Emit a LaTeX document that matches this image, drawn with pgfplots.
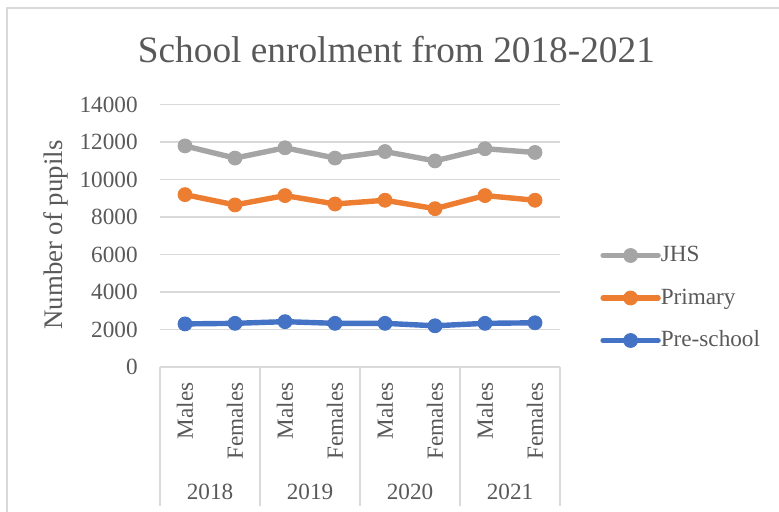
\documentclass[border=0pt]{standalone}
\usepackage{fontspec}
\setmainfont{Liberation Serif}
\usepackage{pgfplots}
\pgfplotsset{compat=1.18}
\definecolor{txt}{HTML}{595959}
\definecolor{gridc}{HTML}{D9D9D9}
\definecolor{cjhs}{HTML}{A5A5A5}
\definecolor{cpri}{HTML}{ED7D31}
\definecolor{cpre}{HTML}{4472C4}
\begin{document}
\begin{tikzpicture}
\path[use as bounding box] (0,0) rectangle (389.5pt,256pt);
\draw[gridc, line width=0.75pt] (3.5pt,0) -- (3.5pt,252pt) -- (389.5pt,252pt);
\begin{axis}[
  at={(80pt,72.5pt)}, anchor=south west,
  scale only axis, width=200pt, height=131.15pt,
  xmin=-0.5, xmax=7.5, ymin=0, ymax=14000,
  ytick={0,2000,...,14000},
  scaled y ticks=false,
  xtick={0,...,7},
  xticklabels={Males,Females,Males,Females,Males,Females,Males,Females},
  axis x line*=bottom, axis y line*=left,
  y axis line style={draw=none},
  x axis line style={gridc, line width=0.75pt, -},
  major tick length=0pt,
  ymajorgrids, major grid style={gridc, line width=0.75pt},
  tick label style={font=\fontsize{11.6}{13}\selectfont, text=txt},
  yticklabel style={anchor=east, inner sep=0pt, xshift=-11pt},
  xticklabel style={yshift=-7.5pt, rotate=90, anchor=east, inner sep=0pt},
  /pgf/number format/assume math mode=true,
  /pgf/number format/1000 sep={},
  ylabel={Number of pupils},
  ylabel style={at={(axis description cs:-0.26,0.503)}, anchor=center, font=\fontsize{13.4}{15}\selectfont, text=txt},
  title={School enrolment from 2018-2021},
  every axis title shift/.style={yshift=0pt},
  title style={at={(axis description cs:0.591,1.1135)}, anchor=base, inner sep=0pt, font=\fontsize{18.65}{22}\selectfont, text=txt},
  clip=false,
  legend cell align=left,
  legend style={at={(axis description cs:1.1,0.263)}, anchor=west, draw=none, fill=none,
    font=\fontsize{11.6}{13}\selectfont, text=txt, inner sep=0pt, row sep=10.25pt,
    nodes={inner sep=0pt, text height=8.5pt, text depth=2.5pt},
    /tikz/every even column/.append style={column sep=1.2pt}},
  legend image code/.code={\draw[mark repeat=2,mark phase=2,#1] plot coordinates {(0pt,0pt) (13.75pt,0pt) (27.5pt,0pt)};},
]
\addplot[cjhs, line width=2.7pt, line join=round, line cap=round, mark=*, mark size=3.5pt, mark options={solid, fill=cjhs, draw=cjhs, line width=0.4pt}]
  coordinates {(0,11800) (1,11150) (2,11700) (3,11150) (4,11500) (5,11000) (6,11650) (7,11450)};
\addlegendentry{JHS}
\addplot[cpri, line width=2.7pt, line join=round, line cap=round, mark=*, mark size=3.5pt, mark options={solid, fill=cpri, draw=cpri, line width=0.4pt}]
  coordinates {(0,9200) (1,8650) (2,9150) (3,8700) (4,8900) (5,8450) (6,9150) (7,8900)};
\addlegendentry{Primary}
\addplot[cpre, line width=2.7pt, line join=round, line cap=round, mark=*, mark size=3.5pt, mark options={solid, fill=cpre, draw=cpre, line width=0.4pt}]
  coordinates {(0,2300) (1,2330) (2,2420) (3,2330) (4,2330) (5,2200) (6,2330) (7,2360)};
\addlegendentry{Pre-school}
\pgfplotsinvokeforeach{-0.5,1.5,3.5,5.5,7.5}{
  \draw[gridc, line width=0.75pt] (axis cs:#1,0) -- ++(0pt,-69.5pt);
}
\node[font=\fontsize{11.6}{13}\selectfont, text=txt, inner sep=0pt, yshift=-62.35pt] at (axis cs:0.5,0) {2018};
\node[font=\fontsize{11.6}{13}\selectfont, text=txt, inner sep=0pt, yshift=-62.35pt] at (axis cs:2.5,0) {2019};
\node[font=\fontsize{11.6}{13}\selectfont, text=txt, inner sep=0pt, yshift=-62.35pt] at (axis cs:4.5,0) {2020};
\node[font=\fontsize{11.6}{13}\selectfont, text=txt, inner sep=0pt, yshift=-62.35pt] at (axis cs:6.5,0) {2021};
\end{axis}
\end{tikzpicture}
\end{document}
